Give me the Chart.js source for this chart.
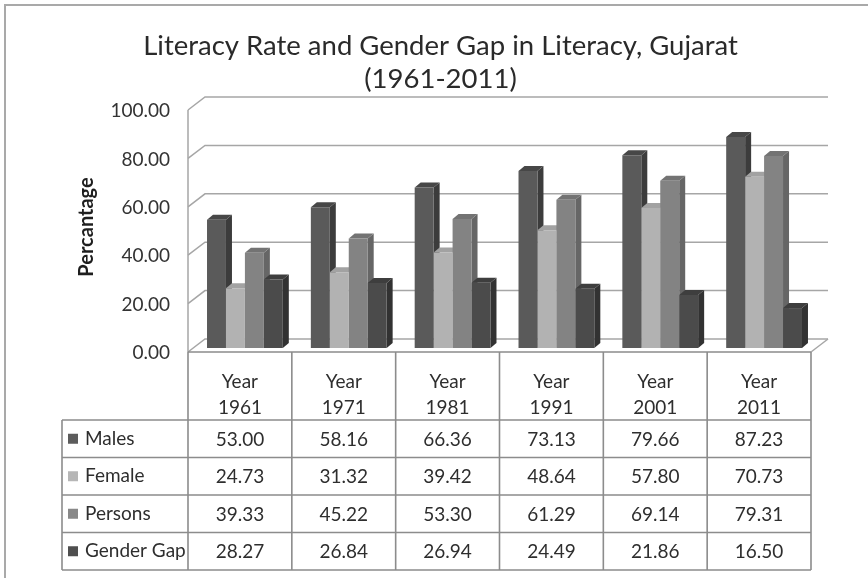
<!DOCTYPE html>
<html><head><meta charset="utf-8">
<script src="https://cdn.jsdelivr.net/npm/chart.js@4.4.1/dist/chart.umd.min.js"></script>
<style>html,body{margin:0;padding:0;background:#fff;}canvas{display:block;}</style>
</head><body>
<canvas id="c" width="868" height="578"></canvas>
<script>
const titleLines = ['Literacy Rate and Gender Gap in Literacy, Gujarat', '(1961-2011)'];
const yAxisTitle = 'Percantage';
const categories = [['Year','1961'],['Year','1971'],['Year','1981'],['Year','1991'],['Year','2001'],['Year','2011']];
const seriesNames = ['Males','Female','Persons','Gender Gap'];
const males = [53.00, 58.16, 66.36, 73.13, 79.66, 87.23];
const female = [24.73, 31.32, 39.42, 48.64, 57.80, 70.73];
const persons = [39.33, 45.22, 53.30, 61.29, 69.14, 79.31];
const genderGap = [28.27, 26.84, 26.94, 24.49, 21.86, 16.50];
const yTicks = [0, 20, 40, 60, 80, 100];

const seriesValues = [males, female, persons, genderGap];
const frontColors = ['#5a5a5a', '#b2b2b2', '#838383', '#4b4b4b'];
const sideColors  = ['#3c3c3c', '#979797', '#666666', '#323232'];
const topColors   = ['#474747', '#a2a2a2', '#737373', '#3e3e3e'];
const legendColors = ['#5c5c5c', '#b6b6b6', '#888888', '#4f4f4f'];

const DX = 6, DY = 5, SHIFT = 5;
const FRONT_DY = 4, BACK_DX = 17, BACK_DY = -9;
const FONT = 'Lato, "Open Sans", sans-serif';

const threeD = {
  id: 'threeD',
  beforeDraw(chart) {
    const ctx = chart.ctx, ys = chart.scales.y, a = chart.chartArea;
    ctx.save();
    ctx.fillStyle = '#fff';
    ctx.fillRect(0, 0, chart.width, chart.height);
    ctx.strokeStyle = '#a9a9a9';
    ctx.lineWidth = 2;
    ctx.strokeRect(5, 5, chart.width + 20, chart.height + 20);
    ctx.strokeStyle = '#a6a6a6';
    ctx.lineWidth = 1.5;
    const L = a.left, R = a.right;
    yTicks.forEach(v => {
      const p = ys.getPixelForValue(v);
      ctx.beginPath();
      ctx.moveTo(L, p + FRONT_DY);
      ctx.lineTo(L + BACK_DX, p + BACK_DY);
      ctx.lineTo(R + BACK_DX, p + BACK_DY);
      ctx.stroke();
    });
    ctx.beginPath();
    ctx.moveTo(L, ys.getPixelForValue(100) + FRONT_DY);
    ctx.lineTo(L, ys.getPixelForValue(0) + FRONT_DY);
    ctx.stroke();
    const p0 = ys.getPixelForValue(0);
    ctx.beginPath();
    ctx.moveTo(R + BACK_DX, p0 + BACK_DY);
    ctx.lineTo(R, p0 + FRONT_DY);
    ctx.stroke();
    ctx.restore();
  },
  beforeDatasetsDraw(chart) {
    const ctx = chart.ctx;
    ctx.save();
    ctx.translate(SHIFT, 0);
    chart.data.datasets.forEach((ds, i) => {
      const meta = chart.getDatasetMeta(i);
      meta.data.forEach(bar => {
        const {x, y, base, width} = bar.getProps(['x', 'y', 'base', 'width'], true);
        const l = x - width / 2, r = x + width / 2;
        ctx.fillStyle = sideColors[i];
        ctx.beginPath();
        ctx.moveTo(r, y); ctx.lineTo(r + DX, y - DY); ctx.lineTo(r + DX, base - DY); ctx.lineTo(r, base);
        ctx.closePath(); ctx.fill();
        ctx.fillStyle = topColors[i];
        ctx.beginPath();
        ctx.moveTo(l, y); ctx.lineTo(r, y); ctx.lineTo(r + DX, y - DY); ctx.lineTo(l + DX, y - DY);
        ctx.closePath(); ctx.fill();
      });
    });
  },
  afterDatasetsDraw(chart) {
    chart.ctx.restore();
  },
  afterDraw(chart) {
    const ctx = chart.ctx, a = chart.chartArea, ys = chart.scales.y;
    const n = categories.length;
    const colW = (a.right - a.left) / n;
    const top = ys.getPixelForValue(0) + FRONT_DY;
    const headH = 68, rowH = 37.5;
    const labelL = 62;
    const rowsTop = top + headH;
    const bottom = rowsTop + rowH * seriesNames.length;
    ctx.save();
    ctx.strokeStyle = '#8c8c8c';
    ctx.lineWidth = 1.6;
    ctx.beginPath();
    ctx.moveTo(a.left, top); ctx.lineTo(a.right, top);
    for (let r = 0; r <= seriesNames.length; r++) {
      const yy = rowsTop + r * rowH;
      ctx.moveTo(labelL, yy); ctx.lineTo(a.right, yy);
    }
    ctx.moveTo(labelL, rowsTop); ctx.lineTo(labelL, bottom);
    for (let c = 0; c <= n; c++) {
      const xx = a.left + c * colW;
      ctx.moveTo(xx, top); ctx.lineTo(xx, bottom);
    }
    ctx.stroke();
    ctx.fillStyle = '#2e2e2e';
    ctx.font = '19px ' + FONT;
    ctx.textAlign = 'center';
    ctx.textBaseline = 'middle';
    categories.forEach((lines, c) => {
      const cx = chart.scales.x.getPixelForValue(c);
      ctx.fillText(lines[0], cx, top + 30);
      ctx.fillText(lines[1], cx, top + 56);
      seriesValues.forEach((vals, r) => {
        ctx.fillText(vals[c].toFixed(2), cx, rowsTop + r * rowH + rowH / 2 + 1);
      });
    });
    ctx.textAlign = 'left';
    seriesNames.forEach((name, r) => {
      const cy = rowsTop + r * rowH + rowH / 2;
      ctx.fillStyle = legendColors[r];
      ctx.fillRect(68, cy - 5, 10, 10);
      ctx.fillStyle = '#2e2e2e';
      ctx.fillText(name, 85, cy);
    });
    ctx.restore();
  }
};

new Chart(document.getElementById('c'), {
  type: 'bar',
  data: {
    labels: categories,
    datasets: seriesNames.map((name, i) => ({
      label: name,
      data: seriesValues[i],
      backgroundColor: frontColors[i],
      borderWidth: 0
    }))
  },
  options: {
    responsive: false,
    animation: false,
    devicePixelRatio: 1,
    categoryPercentage: 0.73,
    barPercentage: 1.0,
    layout: { padding: { left: 70, right: 57, top: 0, bottom: 230 } },
    plugins: {
      legend: { display: false },
      tooltip: { enabled: false },
      title: {
        display: true,
        text: titleLines,
        color: '#2a2a2a',
        font: { family: FONT, size: 27.5, weight: 'normal', lineHeight: 1.2 },
        padding: { top: 30, bottom: 10 }
      }
    },
    scales: {
      x: { display: false },
      y: {
        min: 0, max: 100,
        afterFit(scale) { scale.width = 118; },
        afterBuildTicks(scale) { scale.ticks = yTicks.map(v => ({ value: v })); },
        grid: { display: false, drawTicks: false },
        border: { display: false },
        ticks: {
          padding: 18,
          labelOffset: 5,
          color: '#333',
          font: { family: FONT, size: 19 },
          callback: v => Number(v).toFixed(2)
        },
        title: {
          display: true,
          text: yAxisTitle,
          color: '#1e1e1e',
          font: { family: FONT, size: 20, weight: 'bold' },
          padding: { top: 5, bottom: 0 }
        }
      }
    }
  },
  plugins: [threeD]
});
</script>
</body></html>
